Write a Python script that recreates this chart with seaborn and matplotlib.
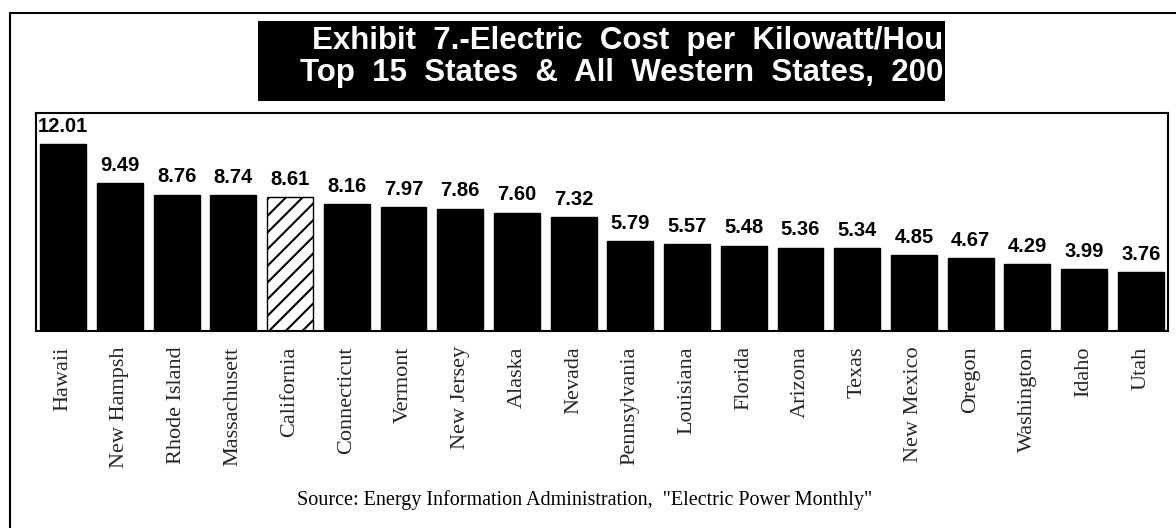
# coding = utf-8

import matplotlib
matplotlib.use('Agg')
import matplotlib.pyplot as plt
from matplotlib.patches import Rectangle
from matplotlib.lines import Line2D
import seaborn as sns

# data (cents per kWh)
states = ["Hawaii", "New Hampsh", "Rhode Island", "Massachusett", "California",
          "Connecticut", "Vermont", "New Jersey", "Alaska", "Nevada",
          "Pennsylvania", "Louisiana", "Florida", "Arizona", "Texas",
          "New Mexico", "Oregon", "Washington", "Idaho", "Utah"]
cost = [12.01, 9.49, 8.76, 8.74, 8.61,
        8.16, 7.97, 7.86, 7.60, 7.32,
        5.79, 5.57, 5.48, 5.36, 5.34,
        4.85, 4.67, 4.29, 3.99, 3.76]
highlight = "California"

title_line1 = "Exhibit  7.-Electric  Cost  per  Kilowatt/Hou"
title_line2 = "Top  15  States  &  All  Western  States,  200"
source_text = 'Source: Energy Information Administration,  "Electric Power Monthly"'

sns.set_theme(style='white')
plt.rcParams['font.family'] = ['Liberation Sans', 'DejaVu Sans']
plt.rcParams['hatch.linewidth'] = 1.5

W, H = 1176, 528
fig = plt.figure(figsize=(W / 100, H / 100), dpi=100)
fig.patch.set_facecolor('white')

# axes placed in pixel terms of the scan
ax = fig.add_axes([36 / W, 1 - 331 / H, (1168 - 36) / W, (331 - 113) / H])
sns.barplot(x=states, y=cost, ax=ax, color='black', width=0.81,
            edgecolor='black', linewidth=1.0, saturation=1)

bars = ax.containers[0]
for bar, name in zip(bars, states):
    if name == highlight:
        bar.set_facecolor('white')
        bar.set_hatch('//')
        bar.set_edgecolor('black')

ax.bar_label(bars, labels=["%.2f" % v for v in cost], padding=6,
             fontsize=14.5, fontweight='bold', color='black')

ax.set_xlim(-0.48, len(states) - 0.52)
ax.set_ylim(0, 14)
ax.set_yticks([])
ax.set_xlabel('')
ax.set_ylabel('')
ax.tick_params(axis='x', length=0, pad=11, labelrotation=90)
for lab in ax.get_xticklabels():
    lab.set_fontfamily('Liberation Serif')
    lab.set_fontsize(16)
for sp in ax.spines.values():
    sp.set_visible(True)
    sp.set_color('black')
    sp.set_linewidth(1.5)

# black title block
fig.patches.append(Rectangle((258 / W, 1 - 101 / H), (945 - 258) / W, 80 / H,
                             transform=fig.transFigure, facecolor='black',
                             edgecolor='none', zorder=0))
fig.text(943 / W, 1 - 41 / H, title_line1, ha='right', va='center',
         color='white', fontsize=22.5, fontweight='bold')
fig.text(943 / W, 1 - 73 / H, title_line2, ha='right', va='center',
         color='white', fontsize=22.5, fontweight='bold')

fig.text(297 / W, 1 - 500 / H, source_text, ha='left', va='center',
         fontsize=14.5, family='Liberation Serif', color='black')

# outer frame of the exhibit (left and top only)
fig.add_artist(Line2D([10 / W, 10 / W], [0, 1 - 13 / H], color='black', lw=1.5))
fig.add_artist(Line2D([10 / W, 1], [1 - 13 / H, 1 - 13 / H], color='black', lw=1.5))

fig.savefig('out.png', dpi=100)
